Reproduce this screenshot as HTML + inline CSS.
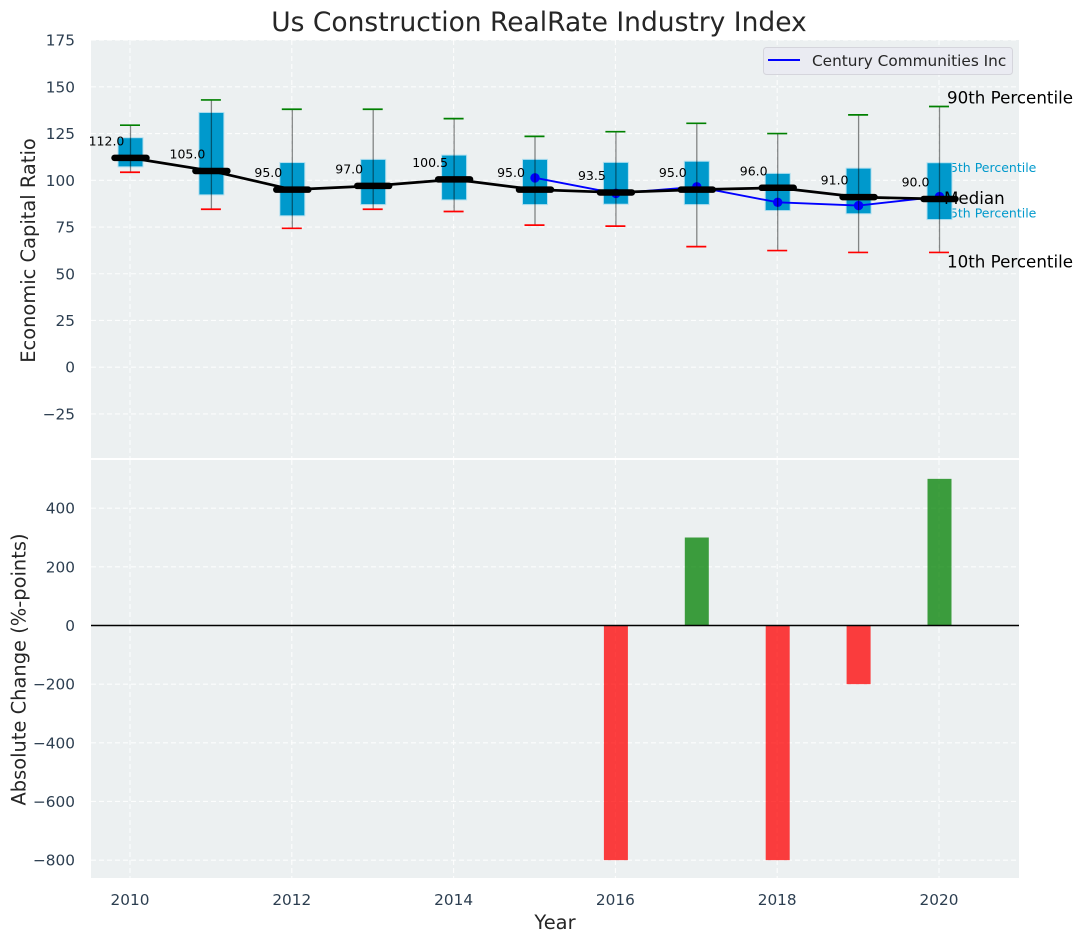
<!DOCTYPE html>
<html lang="en">
<head>
<meta charset="utf-8">
<title>Us Construction RealRate Industry Index</title>
<style>
  html, body { margin: 0; padding: 0; background: #ffffff; }
  svg { display: block; font-family: "DejaVu Sans", "Liberation Sans", sans-serif; }
</style>
</head>
<body>
<svg id="chart" xmlns="http://www.w3.org/2000/svg" width="1082" height="942" viewBox="0 0 1082 942"></svg>
<script>
const years = [2010, 2011, 2012, 2013, 2014, 2015, 2016, 2017, 2018, 2019, 2020];
const p90 = [129.5, 143, 138, 138, 133, 123.5, 126, 130.5, 125, 135, 139.5];
const p75 = [122.8, 136.3, 109.5, 111.2, 113.5, 111.2, 109.6, 110.2, 103.7, 106.5, 109.4];
const medians = [112, 105, 95, 97, 100.5, 95, 93.5, 95, 96, 91, 90];
const p25 = [107.2, 92.2, 81, 87, 89.5, 87, 87.2, 87, 83.8, 82.1, 79];
const p10 = [104.3, 84.5, 74.3, 84.5, 83.3, 76, 75.5, 64.5, 62.4, 61.4, 61.4];
const companyYears = [2015, 2016, 2017, 2018, 2019, 2020];
const companyValues = [101.3, 93, 96.5, 88.2, 86.5, 91.3];
const changeYears = [2016, 2017, 2018, 2019, 2020];
const changeValues = [-800, 300, -800, -200, 500];
const xTicks = [2010, 2012, 2014, 2016, 2018, 2020];
const topTicks = [-25, 0, 25, 50, 75, 100, 125, 150, 175];
const bottomTicks = [-800, -600, -400, -200, 0, 200, 400];

const NS = 'http://www.w3.org/2000/svg';
const svg = document.getElementById('chart');
const L = 91, R = 1019, TT = 40, TB = 458, BT = 460, BB = 878;
const x = function (v) { return 130.5 + (v - 2010) * 80.9; };
const yTop = function (v) { return 367.2 - v * 1.869; };
const yBot = function (v) { return 625.5 - v * 0.2933; };
const fmt = function (v) { return String(v).replace('-', '\u2212'); };

function shape(tag, attrs, parent) {
  const el = document.createElementNS(NS, tag);
  for (const k in attrs) el.setAttribute(k, attrs[k]);
  (parent || svg).appendChild(el);
  return el;
}
function label(str, px, py, size, fill, anchor, parent) {
  const el = shape('text', { x: px, y: py, 'font-size': size, fill: fill, 'text-anchor': anchor || 'start' }, parent);
  el.textContent = str;
  return el;
}
let el;

/* axes backgrounds */
el = shape('rect', { x: L, y: TT, width: R - L, height: TB - TT, fill: '#ecf0f1' });


el = shape('rect', { x: L, y: BT, width: R - L, height: BB - BT, fill: '#ecf0f1' });



const gridStyle = { stroke: '#ffffff', 'stroke-width': 1.1, 'stroke-dasharray': '5 3', 'stroke-opacity': 0.85 };

/* gridlines and tick labels */
xTicks.forEach(function (t) {
  [[TT, TB], [BT, BB]].forEach(function (span) {
    const g = shape('line', Object.assign({ x1: x(t) - 0.5, x2: x(t) - 0.5, y1: span[0], y2: span[1] }, gridStyle));
    
    
  });
  const tl = label(String(t), x(t) - 0.5, 905, 15.3, '#2c3e50', 'middle');
  
  
});
topTicks.forEach(function (t) {
  const g = shape('line', Object.assign({ x1: L, x2: R, y1: yTop(t), y2: yTop(t) }, gridStyle));
  
  
  const tl = label(fmt(t), 75, yTop(t) + 5.5, 15.3, '#2c3e50', 'end');
  
  
});
bottomTicks.forEach(function (t) {
  const g = shape('line', Object.assign({ x1: L, x2: R, y1: yBot(t), y2: yBot(t) }, gridStyle));
  
  
  const tl = label(fmt(t), 75, yBot(t) + 5.5, 15.3, '#2c3e50', 'end');
  
  
});

/* end-of-series annotations that sit partly behind the final box */
const last = years.length - 1;
const lastX = x(years[last]);
el = label('75th Percentile', lastX + 2.5, yTop(p75[last]) + 9.5, 12.5, '#0099cc');


el = label('25th Percentile', lastX + 2.5, yTop(p25[last]) - 2, 12.5, '#0099cc');



/* interquartile boxes */
years.forEach(function (yr, i) {
  const b = shape('rect', {
    x: x(yr) - 12.5, width: 25, y: yTop(p75[i]), height: yTop(p25[i]) - yTop(p75[i]),
    fill: '#0099cc', stroke: '#b3e0f0', 'stroke-width': 1
  });
  
  
});

/* company line and markers */
const companyPts = companyYears.map(function (yr, i) { return x(yr) + ',' + yTop(companyValues[i]); }).join(' ');
el = shape('polyline', { points: companyPts, fill: 'none', stroke: '#0000ff', 'stroke-width': 1.9 });


companyYears.forEach(function (yr, i) {
  const m = shape('circle', { cx: x(yr), cy: yTop(companyValues[i]), r: 4.7, fill: '#0000ff' });
  
  
});

/* whiskers and caps */
years.forEach(function (yr, i) {
  const w = shape('line', { x1: x(yr), x2: x(yr), y1: yTop(p90[i]), y2: yTop(p10[i]), stroke: '#000000', 'stroke-opacity': 0.45, 'stroke-width': 1.3 });
  
  
  const c1 = shape('line', { x1: x(yr) - 10.5, x2: x(yr) + 9.5, y1: yTop(p90[i]), y2: yTop(p90[i]), stroke: '#008000', 'stroke-width': 1.7 });
  
  
  const c2 = shape('line', { x1: x(yr) - 10.5, x2: x(yr) + 9.5, y1: yTop(p10[i]), y2: yTop(p10[i]), stroke: '#ff0000', 'stroke-width': 1.7 });
  
  
});

/* median line, dashes, value labels */
const medianPts = years.map(function (yr, i) { return x(yr) + ',' + yTop(medians[i]); }).join(' ');
el = shape('polyline', { points: medianPts, fill: 'none', stroke: '#000000', 'stroke-width': 2.7 });


years.forEach(function (yr, i) {
  const d = shape('line', { x1: x(yr) - 16, x2: x(yr) + 16, y1: yTop(medians[i]), y2: yTop(medians[i]), stroke: '#000000', 'stroke-width': 6.5, 'stroke-linecap': 'round' });
  
  
  const t = label(medians[i].toFixed(1), x(yr) - 24, yTop(medians[i]) - 12.5, 12.5, '#000000', 'middle');
  
  
});

/* remaining annotations */
el = label('90th Percentile', lastX + 7.5, yTop(p90[last]) - 3, 16.7, '#000000');


el = label('Median', lastX + 4.5, yTop(medians[last]) + 5, 16.7, '#000000');


el = label('10th Percentile', lastX + 7.5, yTop(p10[last]) + 15, 16.7, '#000000');



/* change bars */
changeYears.forEach(function (yr, i) {
  const v = changeValues[i];
  const top = Math.min(yBot(v), yBot(0));
  const b = shape('rect', {
    x: x(yr) - 12, width: 24, y: top, height: Math.abs(yBot(v) - yBot(0)),
    fill: v >= 0 ? '#008000' : '#ff0000', 'fill-opacity': 0.75
  });
  
  
});
el = shape('line', { x1: L, x2: R, y1: yBot(0), y2: yBot(0), stroke: '#000000', 'stroke-width': 1.4 });



/* legend */
el = shape('rect', { x: 763.5, y: 47.5, width: 249, height: 27, rx: 3, fill: '#eaeaf2', 'fill-opacity': 0.85, stroke: '#d5d5dc', 'stroke-width': 1 });


el = shape('line', { x1: 768, x2: 800, y1: 60, y2: 60, stroke: '#0000ff', 'stroke-width': 2 });


el = label('Century Communities Inc', 812, 66, 15.3, '#262626');



/* titles */
el = label('Us Construction RealRate Industry Index', 539, 31, 26.5, '#262626', 'middle');


el = label('Year', 555, 929, 19.45, '#262626', 'middle');


el = label('Economic Capital Ratio', 0, 0, 19.45, '#262626', 'middle');
el.setAttribute('transform', 'translate(35 250.5) rotate(-90)');


el = label('Absolute Change (%-points)', 0, 0, 19.45, '#262626', 'middle');
el.setAttribute('transform', 'translate(25.5 669.5) rotate(-90)');


</script>
</body>
</html>
